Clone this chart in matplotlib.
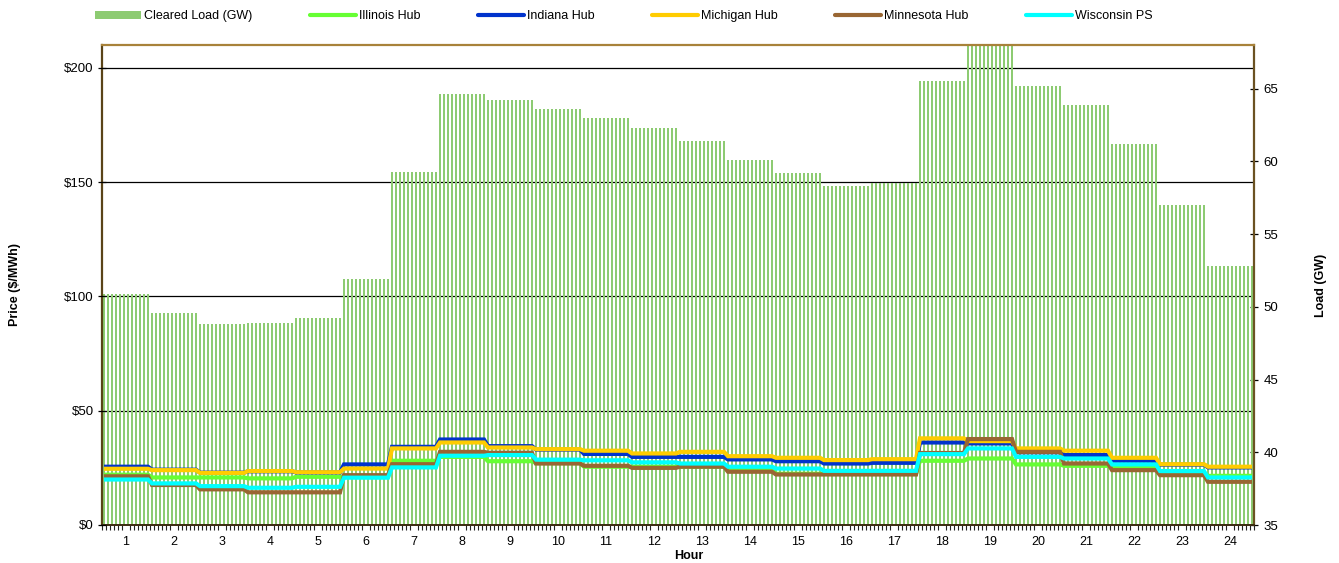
import numpy as np
import matplotlib
matplotlib.use('Agg')
import matplotlib.pyplot as plt
from matplotlib.lines import Line2D
from matplotlib.patches import Patch
from matplotlib.ticker import FuncFormatter, FixedLocator
import matplotlib.transforms as mtransforms

plt.rcParams['font.family'] = ['Liberation Sans', 'DejaVu Sans']

# ---------------- data ----------------
hours = list(range(1, 25))
hour_labels = [str(h) for h in hours]
intervals_per_hour = 12

load_gw = [50.9, 49.6, 48.8, 48.9, 49.2, 51.9, 59.3, 64.6, 64.2, 63.6, 63.0, 62.3,
           61.4, 60.1, 59.2, 58.3, 58.5, 65.5, 67.9, 65.2, 63.9, 61.2, 57.0, 52.8]

illinois = [22.0, 20.8, 20.8, 20.4, 21.1, 21.2, 28.1, 29.8, 27.9, 27.1, 25.5, 25.5,
            25.5, 24.4, 22.4, 22.4, 22.4, 28.1, 29.1, 26.5, 25.9, 25.0, 22.5, 21.5]
indiana = [25.5, 24.2, 22.9, 23.5, 23.0, 26.5, 34.2, 37.4, 34.5, 33.0, 31.1, 29.8,
           29.8, 28.7, 27.9, 26.9, 27.2, 36.1, 35.7, 31.8, 30.6, 28.1, 26.4, 25.2]
michigan = [24.6, 24.0, 22.8, 23.6, 23.1, 24.7, 33.5, 36.1, 33.9, 33.2, 32.5, 31.3,
            32.0, 30.1, 29.4, 28.4, 28.8, 37.9, 36.7, 33.5, 32.5, 29.4, 26.6, 25.5]
minnesota = [21.3, 17.5, 15.6, 14.3, 14.3, 21.8, 26.6, 32.0, 31.6, 26.9, 25.9, 25.0,
             25.5, 23.3, 22.1, 22.1, 22.1, 31.5, 37.6, 32.0, 26.9, 24.0, 21.8, 18.9]
wisconsin = [19.9, 18.2, 17.0, 16.3, 16.7, 20.7, 25.2, 30.3, 30.6, 28.6, 28.3, 27.4,
             26.9, 25.5, 24.7, 23.7, 23.7, 31.0, 33.5, 29.8, 29.1, 26.5, 23.6, 20.8]

series_names = ['Illinois Hub', 'Indiana Hub', 'Michigan Hub', 'Minnesota Hub', 'Wisconsin PS']
series_values = [illinois, indiana, michigan, minnesota, wisconsin]
series_colors = ['#66FF33', '#0033CC', '#FFCC00', '#996633', '#00FFFF']
series_widths = [3.0, 3.0, 3.0, 3.0, 3.0]

load_color = '#8DCB72'

price_ticks = [0, 50, 100, 150, 200]
load_ticks = [35, 40, 45, 50, 55, 60, 65]

# ---------------- figure ----------------
W, H = 1339, 563
fig = plt.figure(figsize=(W / 100, H / 100), dpi=100)
L, R, T, B = 102, 1254, 45, 525
axL = fig.add_axes([L / W, 1 - B / H, (R - L) / W, (B - T) / H])  # load axes (bars)
axP = axL.twinx()  # price axes (lines) drawn on top

n = len(hours) * intervals_per_hour
x = np.arange(n)
load_int = np.repeat(load_gw, intervals_per_hour)

axL.set_xlim(-0.5, n - 0.5)
axL.set_ylim(35, 68)
axP.set_ylim(0, 210)

# gridlines (price levels) behind bars
blend = mtransforms.blended_transform_factory(axL.transAxes, axP.transData)
for g in price_ticks[1:]:
    axL.plot([0, 1], [g, g], transform=blend, color='black', lw=0.9, zorder=1)

axL.bar(x, load_int - 35, bottom=35, width=0.5, color=load_color,
        edgecolor='none', linewidth=0, zorder=2, antialiased=False)

for name, vals, col, lw in zip(series_names, series_values, series_colors, series_widths):
    axP.plot(x, np.repeat(vals, intervals_per_hour), color=col, lw=lw,
             solid_joinstyle='miter', solid_capstyle='butt', zorder=3)

# axes sides
axL.yaxis.tick_right()
axL.yaxis.set_label_position('right')
axP.yaxis.tick_left()
axP.yaxis.set_label_position('left')

axL.set_yticks(load_ticks)
axP.set_yticks(price_ticks)
axP.yaxis.set_major_formatter(FuncFormatter(lambda v, p: f'${v:.0f}'))

axL.set_xticks([(h - 1) * intervals_per_hour + 5.5 for h in hours])
axL.set_xticklabels(hour_labels)
axL.xaxis.set_minor_locator(FixedLocator(np.arange(-0.5, n, 1)))
axL.tick_params(axis='x', which='major', length=0, pad=8, labelsize=9, colors='black')
axL.tick_params(axis='x', which='minor', length=3.5, width=0.8, direction='out', color='#222222')
axL.tick_params(axis='y', which='major', direction='inout', length=6, width=0.9,
                pad=4, labelsize=9.5, colors='black')
axP.tick_params(axis='y', which='major', direction='inout', length=6, width=0.9,
                pad=3, labelsize=9.5, colors='black')

# spines
for ax in (axL, axP):
    for s in ax.spines.values():
        s.set_visible(False)
axL.spines['top'].set_visible(True)
axL.spines['top'].set_color('#A8823A')
axL.spines['top'].set_linewidth(1.6)
axL.spines['left'].set_visible(True)
axL.spines['left'].set_color('#5A4418')
axL.spines['left'].set_linewidth(1.6)
axL.spines['bottom'].set_visible(True)
axL.spines['bottom'].set_color('#3A2A10')
axL.spines['bottom'].set_linewidth(1.4)
axL.spines['right'].set_visible(True)
axL.spines['right'].set_color('#6B5222')
axL.spines['right'].set_linewidth(1.6)
for s in axL.spines.values():
    s.set_zorder(5)

# labels
axP.set_ylabel('Price ($/MWh)', fontsize=9, fontweight='bold')
axP.yaxis.set_label_coords((21 - L) / (R - L), 0.5)
axL.set_ylabel('Load (GW)', fontsize=9, fontweight='bold')
axL.yaxis.set_label_coords((1315 - L) / (R - L), 0.5)
axL.set_xlabel('Hour', fontsize=9, fontweight='bold')
axL.xaxis.set_label_coords((689 - L) / (R - L), (B - 550) / (B - T))

# legend
handles = [Patch(facecolor=load_color, edgecolor='none', label='Cleared Load (GW)')]
for name, col in zip(series_names, series_colors):
    handles.append(Line2D([0], [0], color=col, lw=3, solid_capstyle='round', label=name))
fig.legend(handles=handles, loc='upper left', bbox_to_anchor=(95 / W, 1 - 10 / H),
           ncol=6, frameon=False, fontsize=9, handlelength=3.7, handleheight=0.6,
           handletextpad=0.25, columnspacing=4.57, borderpad=0, borderaxespad=0)

fig.savefig('out.png', dpi=100)
